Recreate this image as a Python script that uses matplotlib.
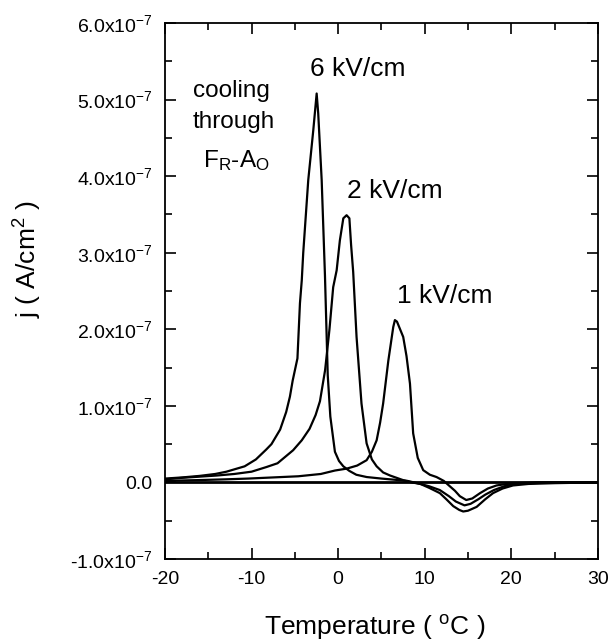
import numpy as np
import matplotlib
matplotlib.use("Agg")
import matplotlib.pyplot as plt
from matplotlib.ticker import MultipleLocator, FixedLocator, FixedFormatter

# ------------------- DATA (j in units of 1e-7 A/cm^2) -------------------
T_6kV = [-20, -18, -16, -14.2, -12.9, -10.8, -9.5, -8.3, -7.7, -6.7, -6.0, -5.57,
         -5.25, -4.7, -4.41, -4.2, -4.03, -3.45, -2.87, -2.48, -2.3, -1.9, -1.52, -1.2,
         -0.9, -0.37, 0.1, 0.6, 1.3, 2.1, 3.3, 5.0, 6.5, 8.0, 9.5, 10.5, 11.75,
         12.5, 13.3, 14.0, 14.45, 15.0, 16.0, 17.0, 17.9, 19.0, 20.2, 22.0, 25.0, 30.0]
j_6kV = [0.05, 0.065, 0.085, 0.11, 0.14, 0.21, 0.30, 0.43, 0.50, 0.69, 0.92, 1.12,
         1.33, 1.62, 2.34, 2.64, 3.0, 3.95, 4.6, 5.08, 4.82, 3.95, 2.7, 1.4,
         0.86, 0.40, 0.28, 0.21, 0.15, 0.10, 0.07, 0.05, 0.035, 0.02, -0.02, -0.07, -0.14,
         -0.22, -0.31, -0.36, -0.38, -0.37, -0.32, -0.22, -0.14, -0.08, -0.04, -0.02, -0.01, 0.0]

T_2kV = [-20, -18, -16, -14, -12, -10, -8.3, -7, -5.2, -4.2, -3.3, -2.6, -2.1, -1.5,
         -1.0, -0.57, -0.17, 0.2, 0.6, 0.98, 1.3, 1.5, 1.74, 2.13, 2.7, 3.29, 3.9,
         4.45, 5.2, 6.0, 6.75, 7.5, 8.5, 9.5, 10.5, 11.75, 12.8, 13.6, 14.6, 15.3,
         16.2, 17.0, 18.0, 19.2, 20.5, 22.0, 25.0, 30.0]
j_2kV = [0.04, 0.06, 0.075, 0.09, 0.11, 0.14, 0.20, 0.25, 0.42, 0.55, 0.70, 0.88, 1.06, 1.47,
         2.0, 2.55, 2.77, 3.16, 3.45, 3.49, 3.45, 3.1, 2.75, 1.9, 1.03, 0.51, 0.30,
         0.21, 0.13, 0.09, 0.06, 0.03, 0.0, -0.02, -0.05, -0.10, -0.18, -0.25, -0.30, -0.28,
         -0.22, -0.16, -0.10, -0.05, -0.02, -0.01, 0.0, 0.0]

T_1kV = [-20, -16.2, -13, -10.4, -7.5, -4.6, -2.0, -0.37, 1.0, 2.2, 3.29, 3.9, 4.45,
         4.85, 5.2, 5.8, 6.37, 6.56, 6.8, 7.52, 7.9, 8.3, 8.67, 9.2, 9.83, 10.6, 11.37,
         12.2, 12.9, 13.5, 14.06, 14.8, 15.5, 16.4, 17.3, 18.3, 19.5, 21.0, 23.0, 26.0, 30.0]
j_1kV = [0.02, 0.03, 0.04, 0.05, 0.065, 0.08, 0.11, 0.155, 0.18, 0.22, 0.29, 0.40, 0.55,
         0.78, 1.03, 1.59, 2.03, 2.12, 2.10, 1.9, 1.65, 1.29, 0.64, 0.32, 0.16, 0.10, 0.07,
         0.02, -0.05, -0.11, -0.18, -0.23, -0.21, -0.14, -0.08, -0.04, -0.02, -0.01, 0.0, 0.0, 0.0]

Y_TICKS = [-1e-7, 0, 1e-7, 2e-7, 3e-7, 4e-7, 5e-7, 6e-7]
Y_TICK_LABELS = [r"-1.0x10$\mathregular{^{-7}}$", "0.0",
                 r"1.0x10$\mathregular{^{-7}}$", r"2.0x10$\mathregular{^{-7}}$",
                 r"3.0x10$\mathregular{^{-7}}$", r"4.0x10$\mathregular{^{-7}}$",
                 r"5.0x10$\mathregular{^{-7}}$", r"6.0x10$\mathregular{^{-7}}$"]
X_TICKS = [-20, -10, 0, 10, 20, 30]

NOTE_LINES = ["cooling", "through", r"F$\mathregular{_R}$-A$\mathregular{_O}$"]

SCALE = 1e-7

# ------------------- PLOT -------------------
plt.rcParams['font.family'] = ['Liberation Sans', 'DejaVu Sans']
plt.rcParams['mathtext.fontset'] = 'custom'
plt.rcParams['mathtext.rm'] = 'Liberation Sans'
plt.rcParams['axes.unicode_minus'] = False

fig = plt.figure(figsize=(6.10, 6.41), dpi=100)
ax = fig.add_axes([0.2705, 0.128, 0.7095, 0.836])

ax.axhline(0, color='black', lw=2.0, zorder=1)
for T, j in [(T_6kV, j_6kV), (T_2kV, j_2kV), (T_1kV, j_1kV)]:
    ax.plot(T, np.array(j) * SCALE, color='black', lw=1.6, zorder=2)

ax.set_xlim(-20, 30)
ax.set_ylim(-1e-7, 6e-7)

ax.xaxis.set_major_locator(FixedLocator(X_TICKS))
ax.xaxis.set_minor_locator(MultipleLocator(5))
ax.yaxis.set_major_locator(FixedLocator(Y_TICKS))
ax.yaxis.set_major_formatter(FixedFormatter(Y_TICK_LABELS))
ax.yaxis.set_minor_locator(MultipleLocator(0.5e-7))

ax.tick_params(which='both', direction='in', top=True, right=True, width=1.2,
               labelsize=14, colors='black')
ax.tick_params(which='major', length=8, pad=9)
ax.tick_params(which='minor', length=5)
for s in ax.spines.values():
    s.set_linewidth(1.3)

ax.set_xlabel(r"Temperature ( $\mathregular{^{o}}$C )", fontsize=19, va='baseline')
ax.xaxis.set_label_coords(0.485, -0.142)
ax.set_ylabel(r"j ( A/cm$\mathregular{^{2}}$ )", fontsize=19)
ax.yaxis.set_label_coords(-0.28, 0.56)

ax.text(2.3, 5.4e-7, "6 kV/cm", fontsize=19, ha='center', va='center')
ax.text(6.6, 3.81e-7, "2 kV/cm", fontsize=19, ha='center', va='center')
ax.text(12.3, 2.44e-7, "1 kV/cm", fontsize=19, ha='center', va='center')

# note lines placed on their own baselines
for line, yb, xc in zip(NOTE_LINES, [5.03e-7, 4.63e-7, 4.12e-7], [-12.3, -12.1, -11.7]):
    ax.text(xc, yb, line, fontsize=17.5, ha='center', va='baseline')

fig.savefig("out.png", dpi=100)
